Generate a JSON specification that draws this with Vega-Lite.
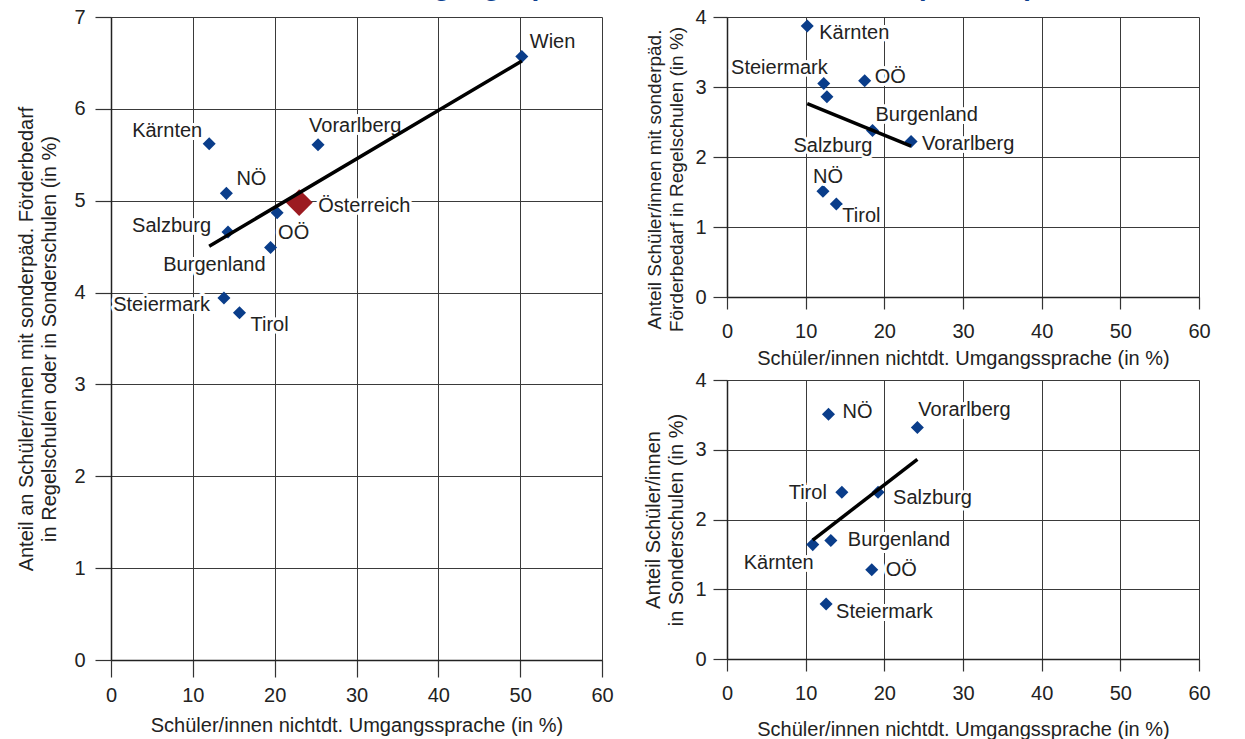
{
  "$schema": "https://vega.github.io/schema/vega-lite/v6.json",
  "autosize": {"type": "pad"},
  "padding": {"top": -27, "left": 16, "right": 0, "bottom": 0},
  "background": "white",
  "title": {
    "text": "SPF und nichtdeutsche Umgangssprache nach Bundesländern (2010/11)",
    "font": "Liberation Sans",
    "fontSize": 28,
    "fontWeight": "bold",
    "color": "#0d3f8f",
    "anchor": "end",
    "frame": "bounds",
    "dx": -176,
    "offset": 6
  },
  "config": {
    "font": "Liberation Sans",
    "view": {"stroke": null},
    "axis": {
      "labelFont": "Liberation Sans",
      "labelFontSize": 20,
      "labelColor": "#222",
      "labelFlush": false,
      "labelOverlap": false,
      "titleFont": "Liberation Sans",
      "titleFontSize": 20,
      "titleFontWeight": "normal",
      "titleColor": "#222",
      "titleLineHeight": 23,
      "gridColor": "#3a3a3a",
      "gridOpacity": 1,
      "gridWidth": 1,
      "domainColor": "#222",
      "domainWidth": 1.5,
      "tickColor": "#333",
      "tickWidth": 1.2
    },
    "text": {"font": "Liberation Sans", "fontSize": 20, "fill": "#222", "baseline": "middle"},
    "style": {"halo": {"stroke": "white", "strokeWidth": 6, "strokeJoin": "round", "fill": "white"}}
  },
  "datasets": {
    "left": [
      {"name": "Wien", "x": 50.2, "y": 6.57},
      {"name": "Kärnten", "x": 12.0, "y": 5.62},
      {"name": "Vorarlberg", "x": 25.3, "y": 5.61},
      {"name": "NÖ", "x": 14.1, "y": 5.08},
      {"name": "Österreich", "x": 23.0, "y": 4.98},
      {"name": "OÖ", "x": 20.3, "y": 4.87},
      {"name": "Salzburg", "x": 14.3, "y": 4.66},
      {"name": "Burgenland", "x": 19.5, "y": 4.49},
      {"name": "Steiermark", "x": 13.8, "y": 3.94},
      {"name": "Tirol", "x": 15.7, "y": 3.78}
    ],
    "regel": [
      {"name": "Kärnten", "x": 10.2, "y": 3.87},
      {"name": "Steiermark", "x": 12.3, "y": 3.05},
      {"name": "Salzburg", "x": 12.7, "y": 2.86},
      {"name": "OÖ", "x": 17.5, "y": 3.09},
      {"name": "Burgenland", "x": 18.5, "y": 2.38},
      {"name": "Vorarlberg", "x": 23.4, "y": 2.22},
      {"name": "NÖ", "x": 12.2, "y": 1.51},
      {"name": "Tirol", "x": 13.9, "y": 1.33}
    ],
    "sonder": [
      {"name": "NÖ", "x": 12.9, "y": 3.51},
      {"name": "Vorarlberg", "x": 24.2, "y": 3.32},
      {"name": "Tirol", "x": 14.6, "y": 2.39},
      {"name": "Salzburg", "x": 19.2, "y": 2.39},
      {"name": "Burgenland", "x": 13.2, "y": 1.70},
      {"name": "Kärnten", "x": 10.9, "y": 1.64},
      {"name": "OÖ", "x": 18.4, "y": 1.28},
      {"name": "Steiermark", "x": 12.6, "y": 0.79}
    ]
  },
  "spacing": 29,
  "hconcat": [
    {
      "width": 491,
      "height": 643,
      "data": {"name": "left"},
      "encoding": {
        "x": {"field": "x", "type": "quantitative", "scale": {"domain": [0, 60], "nice": false, "zero": false},
          "axis": {"values": [0, 10, 20, 30, 40, 50, 60], "title": "Schüler/innen nichtdt. Umgangssprache (in %)", "tickSize": 17, "labelPadding": 8, "titlePadding": 10}},
        "y": {"field": "y", "type": "quantitative", "scale": {"domain": [0, 7], "nice": false},
          "axis": {"values": [0, 1, 2, 3, 4, 5, 6, 7], "title": ["Anteil an Schüler/innen mit sonderpäd. Förderbedarf", "in Regelschulen oder in Sonderschulen (in %)"], "tickSize": 16, "labelPadding": 10, "titlePadding": 14}}
      },
      "layer": [
        {"transform": [{"filter": "datum.name !== 'Österreich'"}], "mark": {"type": "point", "shape": "diamond", "filled": true, "size": 170, "color": "#0a3d8a", "opacity": 1}},
        {"transform": [{"filter": "datum.name === 'Österreich'"}], "mark": {"type": "point", "shape": "diamond", "filled": true, "size": 720, "color": "#9c1b21", "opacity": 1}},
        {"transform": [{"filter": "datum.name === 'Wien'"}], "encoding": {"text": {"field": "name"}}, "layer": [
          {"mark": {"type": "text", "style": "halo", "align": "left", "dx": 8, "dy": -14}},
          {"mark": {"type": "text", "align": "left", "dx": 8, "dy": -14}}]},
        {"transform": [{"filter": "datum.name === 'Kärnten'"}], "encoding": {"text": {"field": "name"}}, "layer": [
          {"mark": {"type": "text", "style": "halo", "align": "right", "dx": -7, "dy": -13}},
          {"mark": {"type": "text", "align": "right", "dx": -7, "dy": -13}}]},
        {"transform": [{"filter": "datum.name === 'Vorarlberg'"}], "encoding": {"text": {"field": "name"}}, "layer": [
          {"mark": {"type": "text", "style": "halo", "align": "left", "dx": -9, "dy": -19}},
          {"mark": {"type": "text", "align": "left", "dx": -9, "dy": -19}}]},
        {"transform": [{"filter": "datum.name === 'NÖ'"}], "encoding": {"text": {"field": "name"}}, "layer": [
          {"mark": {"type": "text", "style": "halo", "align": "left", "dx": 10, "dy": -14}},
          {"mark": {"type": "text", "align": "left", "dx": 10, "dy": -14}}]},
        {"transform": [{"filter": "datum.name === 'Österreich'"}], "encoding": {"text": {"field": "name"}}, "layer": [
          {"mark": {"type": "text", "style": "halo", "align": "left", "dx": 19, "dy": 3}},
          {"mark": {"type": "text", "align": "left", "dx": 19, "dy": 3}}]},
        {"transform": [{"filter": "datum.name === 'OÖ'"}], "encoding": {"text": {"field": "name"}}, "layer": [
          {"mark": {"type": "text", "style": "halo", "align": "left", "dx": 1, "dy": 20}},
          {"mark": {"type": "text", "align": "left", "dx": 1, "dy": 20}}]},
        {"transform": [{"filter": "datum.name === 'Salzburg'"}], "encoding": {"text": {"field": "name"}}, "layer": [
          {"mark": {"type": "text", "style": "halo", "align": "right", "dx": -17, "dy": -6}},
          {"mark": {"type": "text", "align": "right", "dx": -17, "dy": -6}}]},
        {"transform": [{"filter": "datum.name === 'Burgenland'"}], "encoding": {"text": {"field": "name"}}, "layer": [
          {"mark": {"type": "text", "style": "halo", "align": "right", "dx": -5, "dy": 17}},
          {"mark": {"type": "text", "align": "right", "dx": -5, "dy": 17}}]},
        {"transform": [{"filter": "datum.name === 'Steiermark'"}], "encoding": {"text": {"field": "name"}}, "layer": [
          {"mark": {"type": "text", "style": "halo", "align": "right", "dx": -14, "dy": 7}},
          {"mark": {"type": "text", "align": "right", "dx": -14, "dy": 7}}]},
        {"transform": [{"filter": "datum.name === 'Tirol'"}], "encoding": {"text": {"field": "name"}}, "layer": [
          {"mark": {"type": "text", "style": "halo", "align": "left", "dx": 11, "dy": 12}},
          {"mark": {"type": "text", "align": "left", "dx": 11, "dy": 12}}]},
        {"transform": [{"filter": "datum.name !== 'Österreich'"}, {"regression": "y", "on": "x"}], "mark": {"type": "line", "color": "#000", "strokeWidth": 3.5}}
      ]
    },
    {
      "spacing": 2,
      "vconcat": [
        {
          "width": 472,
          "height": 280,
          "data": {"name": "regel"},
          "encoding": {
            "x": {"field": "x", "type": "quantitative", "scale": {"domain": [0, 60], "nice": false, "zero": false},
              "axis": {"values": [0, 10, 20, 30, 40, 50, 60], "title": "Schüler/innen nichtdt. Umgangssprache (in %)", "tickSize": 12, "labelPadding": 12, "titlePadding": 7}},
            "y": {"field": "y", "type": "quantitative", "scale": {"domain": [0, 4], "nice": false},
              "axis": {"values": [0, 1, 2, 3, 4], "title": ["Anteil Schüler/innen mit sonderpäd.", "Förderbedarf in Regelschulen (in %)"], "titleFontSize": 19, "titleLineHeight": 22, "titleY": 162, "tickSize": 14, "labelPadding": 7, "titlePadding": 8}}
          },
          "layer": [
            {"mark": {"type": "point", "shape": "diamond", "filled": true, "size": 170, "color": "#0a3d8a", "opacity": 1}},
            {"transform": [{"filter": "datum.name === 'Kärnten'"}], "encoding": {"text": {"field": "name"}}, "layer": [
              {"mark": {"type": "text", "style": "halo", "align": "left", "dx": 12, "dy": 7}},
              {"mark": {"type": "text", "align": "left", "dx": 12, "dy": 7}}]},
            {"transform": [{"filter": "datum.name === 'Steiermark'"}], "encoding": {"text": {"field": "name"}}, "layer": [
              {"mark": {"type": "text", "style": "halo", "align": "right", "dx": 4, "dy": -16}},
              {"mark": {"type": "text", "align": "right", "dx": 4, "dy": -16}}]},
            {"transform": [{"filter": "datum.name === 'OÖ'"}], "encoding": {"text": {"field": "name"}}, "layer": [
              {"mark": {"type": "text", "style": "halo", "align": "left", "dx": 10, "dy": -4}},
              {"mark": {"type": "text", "align": "left", "dx": 10, "dy": -4}}]},
            {"transform": [{"filter": "datum.name === 'Burgenland'"}], "encoding": {"text": {"field": "name"}}, "layer": [
              {"mark": {"type": "text", "style": "halo", "align": "left", "dx": 3, "dy": -15}},
              {"mark": {"type": "text", "align": "left", "dx": 3, "dy": -15}}]},
            {"transform": [{"filter": "datum.name === 'Salzburg'"}], "encoding": {"text": {"field": "name"}}, "layer": [
              {"mark": {"type": "text", "style": "halo", "align": "center", "dx": 6, "dy": 49}},
              {"mark": {"type": "text", "align": "center", "dx": 6, "dy": 49}}]},
            {"transform": [{"filter": "datum.name === 'Vorarlberg'"}], "encoding": {"text": {"field": "name"}}, "layer": [
              {"mark": {"type": "text", "style": "halo", "align": "left", "dx": 11, "dy": 2}},
              {"mark": {"type": "text", "align": "left", "dx": 11, "dy": 2}}]},
            {"transform": [{"filter": "datum.name === 'NÖ'"}], "encoding": {"text": {"field": "name"}}, "layer": [
              {"mark": {"type": "text", "style": "halo", "align": "center", "dx": 5, "dy": -14}},
              {"mark": {"type": "text", "align": "center", "dx": 5, "dy": -14}}]},
            {"transform": [{"filter": "datum.name === 'Tirol'"}], "encoding": {"text": {"field": "name"}}, "layer": [
              {"mark": {"type": "text", "style": "halo", "align": "left", "dx": 6, "dy": 12}},
              {"mark": {"type": "text", "align": "left", "dx": 6, "dy": 12}}]},
            {"transform": [{"regression": "y", "on": "x"}], "mark": {"type": "line", "color": "#000", "strokeWidth": 3.5}}
          ]
        },
        {
          "width": 472,
          "height": 279,
          "data": {"name": "sonder"},
          "encoding": {
            "x": {"field": "x", "type": "quantitative", "scale": {"domain": [0, 60], "nice": false, "zero": false},
              "axis": {"values": [0, 10, 20, 30, 40, 50, 60], "title": "Schüler/innen nichtdt. Umgangssprache (in %)", "tickSize": 12, "labelPadding": 12, "titlePadding": 16}},
            "y": {"field": "y", "type": "quantitative", "scale": {"domain": [0, 4], "nice": false},
              "axis": {"values": [0, 1, 2, 3, 4], "title": ["Anteil Schüler/innen", "in Sonderschulen (in %)"], "tickSize": 14, "labelPadding": 7, "titlePadding": 8}}
          },
          "layer": [
            {"mark": {"type": "point", "shape": "diamond", "filled": true, "size": 170, "color": "#0a3d8a", "opacity": 1}},
            {"transform": [{"filter": "datum.name === 'NÖ'"}], "encoding": {"text": {"field": "name"}}, "layer": [
              {"mark": {"type": "text", "style": "halo", "align": "left", "dx": 14, "dy": -2}},
              {"mark": {"type": "text", "align": "left", "dx": 14, "dy": -2}}]},
            {"transform": [{"filter": "datum.name === 'Vorarlberg'"}], "encoding": {"text": {"field": "name"}}, "layer": [
              {"mark": {"type": "text", "style": "halo", "align": "left", "dx": 1, "dy": -17}},
              {"mark": {"type": "text", "align": "left", "dx": 1, "dy": -17}}]},
            {"transform": [{"filter": "datum.name === 'Tirol'"}], "encoding": {"text": {"field": "name"}}, "layer": [
              {"mark": {"type": "text", "style": "halo", "align": "right", "dx": -15, "dy": 1}},
              {"mark": {"type": "text", "align": "right", "dx": -15, "dy": 1}}]},
            {"transform": [{"filter": "datum.name === 'Salzburg'"}], "encoding": {"text": {"field": "name"}}, "layer": [
              {"mark": {"type": "text", "style": "halo", "align": "left", "dx": 15, "dy": 6}},
              {"mark": {"type": "text", "align": "left", "dx": 15, "dy": 6}}]},
            {"transform": [{"filter": "datum.name === 'Burgenland'"}], "encoding": {"text": {"field": "name"}}, "layer": [
              {"mark": {"type": "text", "style": "halo", "align": "left", "dx": 17, "dy": 0}},
              {"mark": {"type": "text", "align": "left", "dx": 17, "dy": 0}}]},
            {"transform": [{"filter": "datum.name === 'Kärnten'"}], "encoding": {"text": {"field": "name"}}, "layer": [
              {"mark": {"type": "text", "style": "halo", "align": "right", "dx": 1, "dy": 18}},
              {"mark": {"type": "text", "align": "right", "dx": 1, "dy": 18}}]},
            {"transform": [{"filter": "datum.name === 'OÖ'"}], "encoding": {"text": {"field": "name"}}, "layer": [
              {"mark": {"type": "text", "style": "halo", "align": "left", "dx": 14, "dy": 0}},
              {"mark": {"type": "text", "align": "left", "dx": 14, "dy": 0}}]},
            {"transform": [{"filter": "datum.name === 'Steiermark'"}], "encoding": {"text": {"field": "name"}}, "layer": [
              {"mark": {"type": "text", "style": "halo", "align": "left", "dx": 10, "dy": 8}},
              {"mark": {"type": "text", "align": "left", "dx": 10, "dy": 8}}]},
            {"transform": [{"regression": "y", "on": "x"}], "mark": {"type": "line", "color": "#000", "strokeWidth": 3.5}}
          ]
        }
      ]
    }
  ]
}
